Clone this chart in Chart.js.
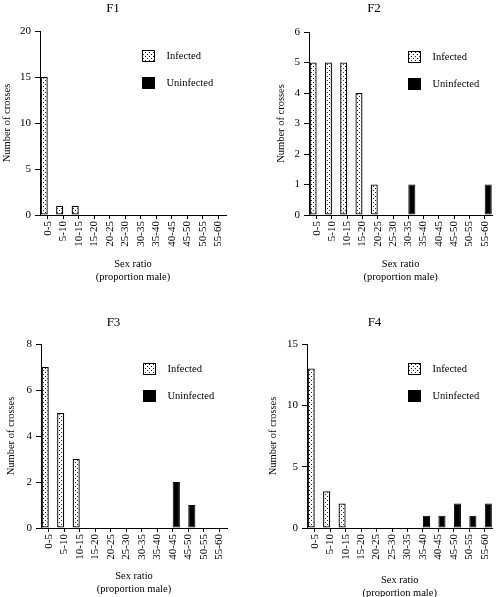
<!DOCTYPE html>
<html>
<head>
<meta charset="utf-8">
<script src="https://cdn.jsdelivr.net/npm/chart.js@4.4.1/dist/chart.umd.min.js"></script>
<style>
  html, body { margin: 0; padding: 0; background: #fff; overflow: hidden; }
  body { width: 500px; height: 597px; position: relative; }
  .panel { position: absolute; width: 250px; }
</style>
</head>
<body>
<div class="panel" id="p1" style="left:0;top:0;height:300px"><canvas id="c1" width="250" height="300"></canvas></div>
<div class="panel" id="p2" style="left:250px;top:0;height:300px"><canvas id="c2" width="250" height="300"></canvas></div>
<div class="panel" id="p3" style="left:0;top:300px;height:297px"><canvas id="c3" width="250" height="297"></canvas></div>
<div class="panel" id="p4" style="left:250px;top:300px;height:297px"><canvas id="c4" width="250" height="297"></canvas></div>
<script>
// ---- data ----
const categories = ['0-5','5-10','10-15','15-20','20-25','25-30','30-35','35-40','40-45','45-50','50-55','55-60'];
const seriesNames = ['Infected', 'Uninfected'];
const panelTitles = ['F1', 'F2', 'F3', 'F4'];

const f1Infected   = [15, 1, 1, 0, 0, 0, 0, 0, 0, 0, 0, 0];
const f1Uninfected = [0, 0, 0, 0, 0, 0, 0, 0, 0, 0, 0, 0];
const f2Infected   = [5, 5, 5, 4, 1, 0, 0, 0, 0, 0, 0, 0];
const f2Uninfected = [0, 0, 0, 0, 0, 0, 1, 0, 0, 0, 0, 1];
const f3Infected   = [7, 5, 3, 0, 0, 0, 0, 0, 0, 0, 0, 0];
const f3Uninfected = [0, 0, 0, 0, 0, 0, 0, 0, 2, 1, 0, 0];
const f4Infected   = [13, 3, 2, 0, 0, 0, 0, 0, 0, 0, 0, 0];
const f4Uninfected = [0, 0, 0, 0, 0, 0, 0, 1, 1, 2, 1, 2];

const yMaxes  = [20, 6, 8, 15];
const ySteps  = [5, 1, 2, 5];
const yTitle = 'Number of crosses';
const xTitle = ['Sex ratio', '(proportion male)'];

// ---- layout (per panel, local pixel geometry) ----
const layoutSpec = [
  { h: 300, left: 40, right: 226, top: 31, bottom: 215, yTitleX: 7,  titleCY: 9,  xTitleLast: 277 },
  { h: 300, left: 59, right: 248, top: 32, bottom: 215, yTitleX: 31, titleCY: 9,  xTitleLast: 277 },
  { h: 297, left: 41, right: 227, top: 44, bottom: 228, yTitleX: 11, titleCY: 23, xTitleLast: 289 },
  { h: 297, left: 57, right: 249, top: 44, bottom: 228, yTitleX: 23, titleCY: 23, xTitleLast: 293 }
];

const FONT = "'Liberation Serif', 'Times New Roman', serif";

function makeDotPattern() {
  const c = document.createElement('canvas');
  c.width = 4; c.height = 4;
  const g = c.getContext('2d');
  g.fillStyle = '#fff';
  g.fillRect(0, 0, 4, 4);
  g.fillStyle = '#222';
  g.fillRect(1, 0, 1, 1);
  g.fillRect(3, 2, 1, 1);
  return g.createPattern(c, 'repeat');
}

const legendPlugin = {
  id: 'boxLegend',
  afterDraw(chart) {
    const { ctx, chartArea } = chart;
    ctx.save();
    ctx.font = '10.5px ' + FONT;
    ctx.textBaseline = 'middle';
    ctx.textAlign = 'left';
    chart.data.datasets.forEach((ds, i) => {
      const x = Math.round(chartArea.right - 84) + 0.5;
      const y = Math.round(chartArea.top + 19 + i * 27) + 0.5;
      ctx.fillStyle = ds.backgroundColor;
      ctx.fillRect(x, y, 12, 11);
      ctx.strokeStyle = '#000';
      ctx.lineWidth = 1;
      ctx.strokeRect(x, y, 12, 11);
      ctx.fillStyle = '#000';
      ctx.fillText(ds.label, x + 24, y + 6);
    });
    ctx.restore();
  }
};

function buildChart(idx, infected, uninfected) {
  const L = layoutSpec[idx];
  const dots = makeDotPattern();
  const titleLH = 13 * 1.2;
  const axisTitleLH = 13;
  return new Chart(document.getElementById('c' + (idx + 1)), {
    type: 'bar',
    data: {
      labels: categories,
      datasets: [
        {
          label: seriesNames[0],
          data: infected,
          backgroundColor: dots,
          borderColor: '#000',
          borderWidth: (c) => (c.raw > 0 ? 1.3 : 0),
          borderSkipped: false,
          categoryPercentage: 0.92,
          barPercentage: 1.0
        },
        {
          label: seriesNames[1],
          data: uninfected,
          backgroundColor: '#000',
          borderColor: '#000',
          borderWidth: (c) => (c.raw > 0 ? 1 : 0),
          borderSkipped: false,
          categoryPercentage: 0.92,
          barPercentage: 1.0
        }
      ]
    },
    options: {
      responsive: false,
      animation: false,
      devicePixelRatio: 1,
      layout: { padding: { left: 0, right: 250 - L.right, top: 0, bottom: 0 } },
      plugins: {
        legend: { display: false },
        tooltip: { enabled: false },
        title: {
          display: true,
          text: panelTitles[idx],
          color: '#000',
          font: { family: FONT, size: 13, weight: 'normal', lineHeight: 1.2 },
          padding: { top: L.titleCY - titleLH / 2, bottom: L.top - (L.titleCY + titleLH / 2) }
        }
      },
      scales: {
        x: {
          afterFit: (s) => { s.height = L.h - L.bottom; },
          grid: { display: true, drawOnChartArea: false, drawTicks: true, tickLength: 4, color: '#000', offset: false },
          border: { display: true, color: '#000', width: 1 },
          ticks: {
            autoSkip: false, minRotation: 90, maxRotation: 90, padding: 2,
            color: '#000', font: { family: FONT, size: 11 }
          },
          title: {
            display: true, text: xTitle, color: '#000',
            font: { family: FONT, size: 10.5, lineHeight: axisTitleLH / 10.5 },
            padding: { top: 0, bottom: L.h - L.xTitleLast - axisTitleLH / 2 }
          }
        },
        y: {
          min: 0, max: yMaxes[idx],
          afterFit: (s) => { s.width = L.left; },
          grid: { display: true, drawOnChartArea: false, drawTicks: true, tickLength: 5, color: '#000' },
          border: { display: true, color: '#000', width: 1 },
          ticks: { stepSize: ySteps[idx], padding: 4, color: '#000', font: { family: FONT, size: 11 } },
          title: {
            display: true, text: yTitle, color: '#000',
            font: { family: FONT, size: 10.5, lineHeight: 1.2 },
            padding: { top: L.yTitleX - 6.3, bottom: 0 }
          }
        }
      }
    },
    plugins: [legendPlugin]
  });
}

buildChart(0, f1Infected, f1Uninfected);
buildChart(1, f2Infected, f2Uninfected);
buildChart(2, f3Infected, f3Uninfected);
buildChart(3, f4Infected, f4Uninfected);
</script>
</body>
</html>
